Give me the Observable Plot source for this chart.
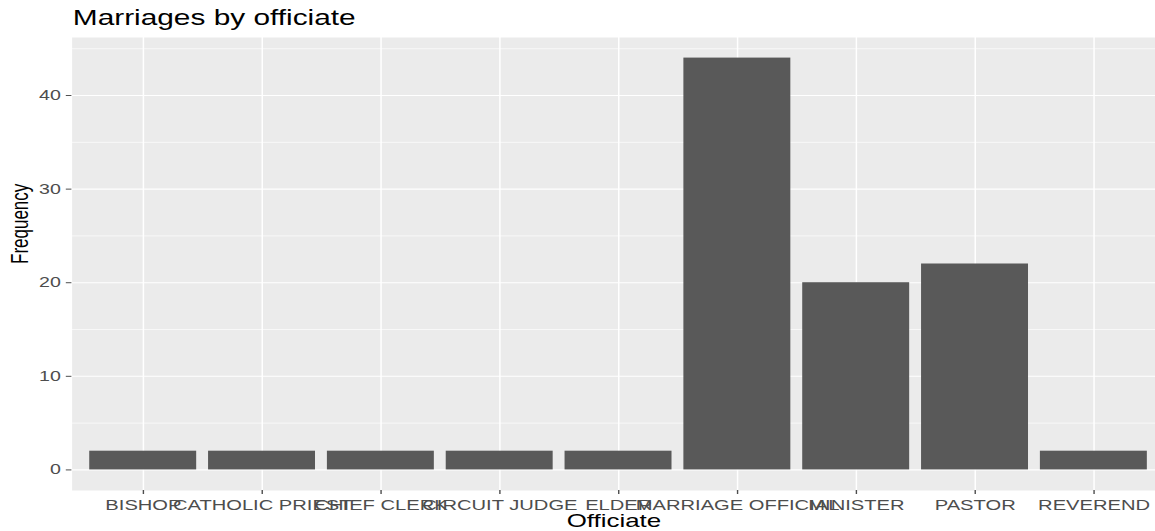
<!DOCTYPE html>
<html>
<head>
<meta charset="utf-8">
<script src="https://cdn.jsdelivr.net/npm/d3@7"></script>
<script src="https://cdn.jsdelivr.net/npm/@observablehq/plot@0.6"></script>
<style>
  html, body { margin: 0; padding: 0; background: #ffffff; overflow: hidden; }
  #wrap { width: 825px; transform: scaleX(1.4); transform-origin: 0 0; font-family: "Liberation Sans", Arial, Helvetica, sans-serif; }
  #title { position: relative; height: 37px; }
  #title span { position: absolute; left: 52px; top: 8px; font-size: 21.3px; line-height: 1; color: #000; white-space: nowrap; }
  svg { display: block; }
</style>
</head>
<body>
<div id="wrap">
  <div id="title"><span>Marriages by officiate</span></div>
  <div id="chart"></div>
</div>
<script>
const titleText = "Marriages by officiate";
const xLabel = "Officiate";
const yLabel = "Frequency";
const categories = ["BISHOP", "CATHOLIC PRIEST", "CHIEF CLERK", "CIRCUIT JUDGE", "ELDER", "MARRIAGE OFFICIAL", "MINISTER", "PASTOR", "REVEREND"];
const counts = [2, 2, 2, 2, 2, 44, 20, 22, 2];
const yTicks = [0, 10, 20, 30, 40];
const yMinor = [5, 15, 25, 35, 45];

const data = categories.map((c, i) => ({officiate: c, n: counts[i]}));

const chart = Plot.plot({
  width: 825,
  height: 494,
  marginTop: 0,
  marginBottom: 41,
  marginLeft: 51,
  marginRight: 0,
  style: {fontFamily: '"Liberation Sans", Arial, Helvetica, sans-serif', background: "transparent", overflow: "visible"},
  x: {type: "band", domain: categories, range: [51, 831.9], paddingInner: 0.1, paddingOuter: 0.15, round: false, label: null},
  y: {domain: [-2.2, 46.2], label: null},
  marks: [
    Plot.frame({fill: "#EBEBEB", stroke: null}),
    Plot.gridY(yMinor, {stroke: "#ffffff", strokeOpacity: 1, strokeWidth: 0.55}),
    Plot.gridY(yTicks, {stroke: "#ffffff", strokeOpacity: 1, strokeWidth: 1.07}),
    Plot.gridX({stroke: "#ffffff", strokeOpacity: 1, strokeWidth: 1.07}),
    Plot.barY(data, {x: "officiate", y: "n", fill: "#595959"}),
    Plot.axisY(yTicks, {tickSize: 4, tickPadding: 4, fontSize: 14, color: "#4D4D4D", label: null}),
    Plot.axisX({tickSize: 4, tickPadding: 5, fontSize: 14.4, color: "#4D4D4D", label: null}),
    Plot.text([xLabel], {frameAnchor: "bottom", dy: 36, fontSize: 18.5, fill: "#000", lineAnchor: "bottom", text: d => d}),
    Plot.text([yLabel], {frameAnchor: "left", dx: -37, rotate: -90, fontSize: 17, fill: "#000", text: d => d})
  ]
});
document.getElementById("chart").appendChild(chart);
</script>
</body>
</html>
